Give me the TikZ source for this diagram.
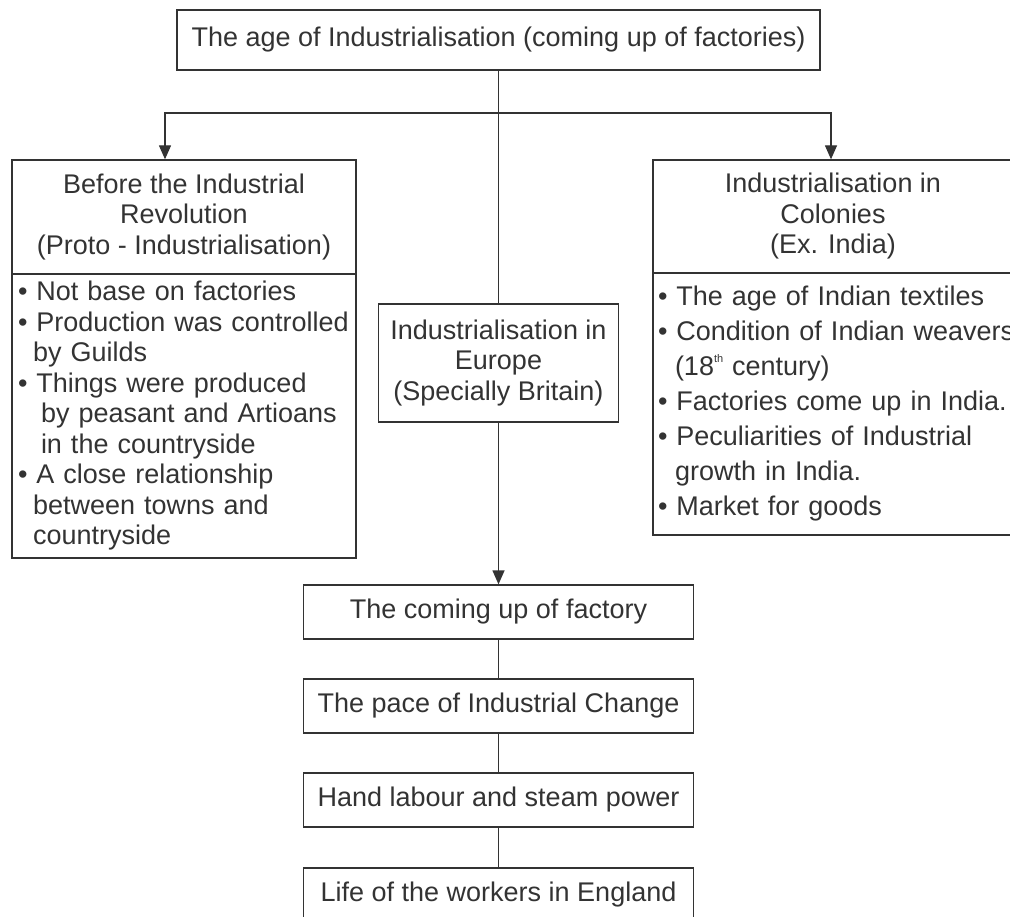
\documentclass[tikz,border=0pt]{standalone}
\usepackage{fontspec}
\setmainfont{Liberation Sans}
\usetikzlibrary{arrows.meta}
\definecolor{ink}{HTML}{333333}

\begin{document}
\begin{tikzpicture}[x=1pt,y=-1pt,color=ink]
			\tikzstyle{every node}+=[inner sep=0pt]
			\tikzstyle{box}=[draw=ink,line width=1.3pt,align=center,font=\fontsize{27}{30.5}\selectfont]
			\tikzstyle{arr}=[line width=1.3pt,-{Triangle[length=14pt,width=12pt]}]
			\useasboundingbox (0,0) rectangle (1010,917);
			% top
			\node [box,minimum width=643pt,minimum height=60pt] (age) at (498.5,40) {The age of Industrialisation (coming up of factories)};
			% left column
			\node [box,minimum width=344pt,minimum height=114pt] (proto) at (184,217) {Before the Industrial\\Revolution\\(Proto - Industrialisation)};
			\node [box,align=left,text width=332pt,inner xsep=6pt,minimum height=284pt] (protolist) at (184,416) {%
				• Not base on factories\\
				• Production was controlled\\
				\hspace*{15pt}by Guilds\\
				• Things were produced\\
				\hspace*{23pt}by peasant and Artioans\\
				\hspace*{23pt}in the countryside\\
				• A close relationship\\
				\hspace*{15pt}between towns and\\
				\hspace*{15pt}countryside};
			% middle column
			\node [box,minimum width=240pt,minimum height=118pt] (europe) at (498.5,363) {Industrialisation in\\Europe\\(Specially Britain)};
			\node [box,minimum width=390pt,minimum height=54pt] (coming) at (498.5,612) {The coming up of factory};
			\node [box,minimum width=390pt,minimum height=54pt] (pace) at (498.5,706) {The pace of Industrial Change};
			\node [box,minimum width=390pt,minimum height=54pt] (hand) at (498.5,800) {Hand labour and steam power};
			\node [box,minimum width=390pt,minimum height=54pt] (life) at (498.5,895) {Life of the workers in England};
			% right column
			\node [box,minimum width=360pt,minimum height=113pt] (colony) at (833,216.5) {Industrialisation in\\Colonies\\(Ex. India)};
			\node [box,align=left,text width=360pt,inner xsep=5pt,minimum height=262pt,font=\fontsize{27}{35}\selectfont] (colonylist) at (838,404) {%
				• The age of Indian textiles\\
				• Condition of Indian weavers\\
				\hspace*{17pt}(18\raisebox{0.5em}{\fontsize{11}{11}\selectfont th} century)\\
				• Factories come up in India.\\
				• Peculiarities of Industrial\\
				\hspace*{17pt}growth in India.\\
				• Market for goods};
			% connectors
			\coordinate (fork) at (498.5,113);
			\draw [line width=1.3pt] (age.south) -- (europe.north);
			\draw [arr] (fork) -| ([xshift=-19pt]proto.north);
			\draw [arr] (fork) -| ([xshift=-2pt]colony.north);
			\draw [arr] (europe.south) -- (coming.north);
			\draw [line width=1.3pt] (coming.south) -- (pace.north);
			\draw [line width=1.3pt] (pace.south) -- (hand.north);
			\draw [line width=1.3pt] (hand.south) -- (life.north);
		\end{tikzpicture}
\end{document}
